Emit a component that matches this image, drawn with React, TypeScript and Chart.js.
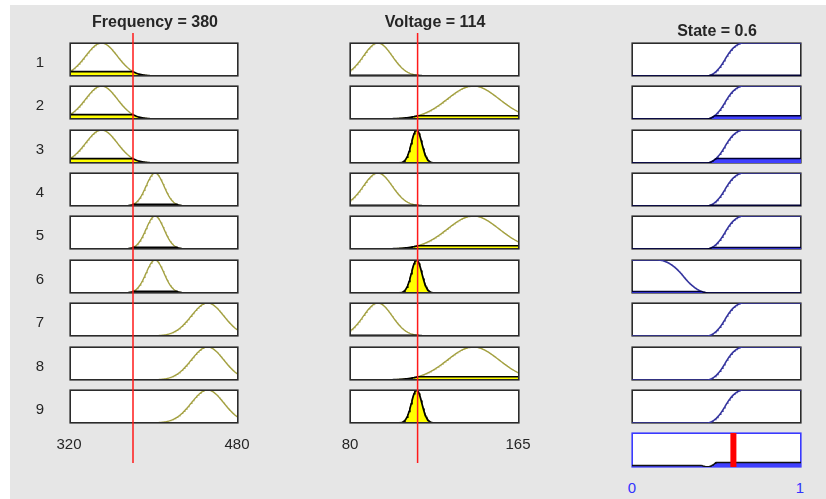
import React, { useEffect, useRef } from "react";
import { Chart, registerables } from "chart.js";
Chart.register(...registerables);

// ---------- data ----------
const ruleLabels = ["1", "2", "3", "4", "5", "6", "7", "8", "9"];
const inputTitles = ["Frequency = 380", "Voltage = 114"];
const outputTitle = "State = 0.6";
const inputValues = [380, 114];
const outputValue = 0.6;
const freqRange = [320, 480];
const voltRange = [80, 165];
const stateRange = [0, 1];
const freqTickLabels = ["320", "480"];
const voltTickLabels = ["80", "165"];
const stateTickLabels = ["0", "1"];
// gaussian membership functions: [sigma, center]
const freqMFs = [[15, 350], [8.5, 401], [15.5, 451]];
const voltMFs = [[7.2, 94], [13, 142], [2.6, 113.5]];
// output membership functions: s-shaped rise [a, b], z-shaped fall [a, b]
const stateRise = [0.44, 0.66];
const stateFall = [0.15, 0.46];
// rule table (index of MF used in each rule)
const ruleFreqMF = [0, 0, 0, 1, 1, 1, 2, 2, 2];
const ruleVoltMF = [0, 1, 2, 0, 1, 2, 0, 1, 2];
const ruleStateMF = [0, 0, 0, 0, 0, 1, 0, 0, 0];

// ---------- helpers ----------
const N = 241;
const gauss = (p: number[]) => (x: number) => Math.exp(-((x - p[1]) ** 2) / (2 * p[0] * p[0]));
const smf = (p: number[]) => (x: number) => {
  const [a, b] = p;
  if (x <= a) return 0;
  if (x >= b) return 1;
  const m = (a + b) / 2;
  if (x <= m) return 2 * ((x - a) / (b - a)) ** 2;
  return 1 - 2 * ((x - b) / (b - a)) ** 2;
};
const zmf = (p: number[]) => (x: number) => 1 - smf(p)(x);
const stateMF = (i: number) => (i === 0 ? smf(stateRise) : zmf(stateFall));
const sample = (range: number[], f: (x: number) => number) => {
  const pts: { x: number; y: number }[] = [];
  for (let i = 0; i < N; i++) {
    const x = range[0] + ((range[1] - range[0]) * i) / (N - 1);
    pts.push({ x, y: f(x) });
  }
  return pts;
};

const OLIVE = "#a3a040";
const YELLOW = "#ffff00";
const NAVY = "#34349e";
const BLUE_FILL = "#4040ff";

function inputDatasets(range: number[], f: (x: number) => number, level: number) {
  const ds: any[] = [];
  if (level > 0.005) {
    ds.push({
      data: sample(range, (x) => Math.min(f(x), level)),
      borderColor: "#000000",
      borderWidth: 1.7,
      backgroundColor: YELLOW,
      fill: "origin",
      pointRadius: 0,
      order: 0,
    });
  }
  ds.push({
    data: sample(range, f),
    borderColor: OLIVE,
    borderWidth: 1.4,
    fill: false,
    pointRadius: 0,
    order: 1,
  });
  return ds;
}

function outputDatasets(f: (x: number) => number, level: number) {
  const ds: any[] = [];
  if (level > 0.005) {
    ds.push({
      data: sample(stateRange, (x) => Math.min(f(x), level)),
      borderColor: "#000033",
      borderWidth: 1.5,
      backgroundColor: BLUE_FILL,
      fill: "origin",
      pointRadius: 0,
      order: 0,
    });
  }
  ds.push({
    data: sample(stateRange, f),
    borderColor: NAVY,
    borderWidth: 1.6,
    fill: false,
    pointRadius: 0,
    order: 1,
  });
  return ds;
}

// ---------- layout ----------
const ROW_TOP0 = 42.7;
const ROW_STEP = 43.4;
const BOX_H = 33;
const COLS = [
  { left: 70, width: 168 },
  { left: 350, width: 169 },
  { left: 632, width: 169 },
];
const rowTop = (r: number) => Math.round(ROW_TOP0 + r * ROW_STEP);

type MiniProps = {
  left: number;
  top: number;
  width: number;
  height: number;
  borderColor?: string;
  borderOnTop?: boolean;
  background?: string;
  xRange: number[];
  datasets: any[];
  z?: number;
};

function MiniChart({ left, top, width, height, borderColor, borderOnTop, background, xRange, datasets, z }: MiniProps) {
  const ref = useRef<HTMLCanvasElement>(null);
  useEffect(() => {
    const chart = new Chart(ref.current as HTMLCanvasElement, {
      type: "line",
      data: { datasets: datasets.map((d) => ({ ...d, data: d.data.map((p: any) => ({ ...p })) })) },
      options: {
        animation: false,
        responsive: false,
        maintainAspectRatio: false,
        events: [],
        layout: { padding: 0 },
        plugins: { legend: { display: false }, tooltip: { enabled: false }, title: { display: false } },
        scales: {
          x: { type: "linear", min: xRange[0], max: xRange[1], display: false },
          y: { type: "linear", min: 0, max: 1, display: false },
        },
        elements: { point: { radius: 0 }, line: { tension: 0 } },
      } as any,
    });
    return () => chart.destroy();
  }, []);
  const borderDiv = borderColor ? (
    <div
      style={{
        position: "absolute",
        left: 0,
        top: 0,
        width,
        height,
        boxSizing: "border-box",
        border: `1px solid ${borderColor}`,
        boxShadow: `0 0 0 0.6px ${borderColor}`,
        zIndex: borderOnTop ? 2 : 0,
      }}
    />
  ) : null;
  return (
    <div
      style={{
        position: "absolute",
        left,
        top,
        width,
        height,
        background: background || "transparent",
        zIndex: z || 1,
        pointerEvents: "none",
      }}
    >
      {borderDiv}
      <canvas
        ref={ref}
        width={width}
        height={height}
        style={{ display: "block", position: "absolute", left: 0, top: 0, width, height, zIndex: 1 }}
      />
    </div>
  );
}

function Label({ x, y, text, bold, color, size }: { x: number; y: number; text: string; bold?: boolean; color?: string; size?: number }) {
  return (
    <div
      style={{
        position: "absolute",
        left: x,
        top: y,
        transform: "translate(-50%, -50%)",
        fontFamily: "'Liberation Sans', Arial, Helvetica, sans-serif",
        fontSize: size || 15,
        fontWeight: bold ? "bold" : "normal",
        color: color || "#262626",
        whiteSpace: "nowrap",
        lineHeight: 1,
        zIndex: 3,
      }}
    >
      {text}
    </div>
  );
}

export default function App() {
  const ranges = [freqRange, voltRange];
  const mfSets = [freqMFs, voltMFs];
  const ruleMFs = [ruleFreqMF, ruleVoltMF];
  // membership of each input value in each of its MFs
  const inputDegrees = mfSets.map((set, c) => set.map((p) => gauss(p)(inputValues[c])));
  const firing = ruleLabels.map((_, r) =>
    Math.min(inputDegrees[0][ruleFreqMF[r]], inputDegrees[1][ruleVoltMF[r]])
  );
  const aggregate = (x: number) => {
    let m = 0;
    ruleLabels.forEach((_, r) => {
      m = Math.max(m, Math.min(stateMF(ruleStateMF[r])(x), firing[r]));
    });
    return m;
  };

  const charts: JSX.Element[] = [];
  ruleLabels.forEach((_, r) => {
    for (let c = 0; c < 2; c++) {
      const mi = ruleMFs[c][r];
      charts.push(
        <MiniChart
          key={`in-${c}-${r}`}
          left={COLS[c].left}
          top={rowTop(r)}
          width={COLS[c].width}
          height={BOX_H}
          borderColor="#2b2b2b"
          borderOnTop
          background="#ffffff"
          xRange={ranges[c]}
          datasets={inputDatasets(ranges[c], gauss(mfSets[c][mi]), inputDegrees[c][mi])}
        />
      );
    }
    charts.push(
      <MiniChart
        key={`out-${r}`}
        left={COLS[2].left}
        top={rowTop(r)}
        width={COLS[2].width}
        height={BOX_H}
        borderColor="#2b2b2b"
        background="#ffffff"
        xRange={stateRange}
        datasets={outputDatasets(stateMF(ruleStateMF[r]), firing[r])}
      />
    );
  });

  // aggregated output
  charts.push(
    <MiniChart
      key="agg"
      left={COLS[2].left}
      top={rowTop(9)}
      width={COLS[2].width}
      height={BOX_H + 1}
      borderColor="#3a3aff"
      background="#ffffff"
      xRange={stateRange}
      datasets={[
        {
          data: [
            { x: outputValue, y: 0 },
            { x: outputValue, y: 1 },
          ],
          borderColor: "#ff0000",
          borderWidth: 6,
          fill: false,
          pointRadius: 0,
          order: 0,
        },
        {
          data: sample(stateRange, aggregate),
          borderColor: "#111111",
          borderWidth: 1.5,
          backgroundColor: BLUE_FILL,
          fill: "origin",
          pointRadius: 0,
          order: 1,
        },
      ]}
    />
  );

  // red input lines
  for (let c = 0; c < 2; c++) {
    charts.push(
      <MiniChart
        key={`line-${c}`}
        left={COLS[c].left}
        top={33}
        width={COLS[c].width}
        height={430}
        xRange={ranges[c]}
        z={2}
        datasets={[
          {
            data: [
              { x: inputValues[c], y: 0 },
              { x: inputValues[c], y: 1 },
            ],
            borderColor: "#ff1a1a",
            borderWidth: 1.5,
            fill: false,
            pointRadius: 0,
          },
        ]}
      />
    );
  }

  const tickY = 443;
  return (
    <div style={{ position: "fixed", left: 0, top: 0, width: 826, height: 499, background: "#ffffff", overflow: "hidden" }}>
      <div style={{ position: "absolute", left: 10, top: 5, width: 816, height: 494, background: "#e6e6e6" }} />
      {charts}
      <Label x={155} y={22} text={inputTitles[0]} bold size={16} />
      <Label x={435} y={22} text={inputTitles[1]} bold size={16} />
      <Label x={717} y={31} text={outputTitle} bold size={16} />
      {ruleLabels.map((l, r) => (
        <Label key={l} x={40} y={rowTop(r) + 18} text={l} />
      ))}
      <Label x={69} y={tickY} text={freqTickLabels[0]} />
      <Label x={237} y={tickY} text={freqTickLabels[1]} />
      <Label x={350} y={tickY} text={voltTickLabels[0]} />
      <Label x={518} y={tickY} text={voltTickLabels[1]} />
      <Label x={632} y={487} text={stateTickLabels[0]} color="#3333ff" />
      <Label x={800} y={487} text={stateTickLabels[1]} color="#3333ff" />
    </div>
  );
}
